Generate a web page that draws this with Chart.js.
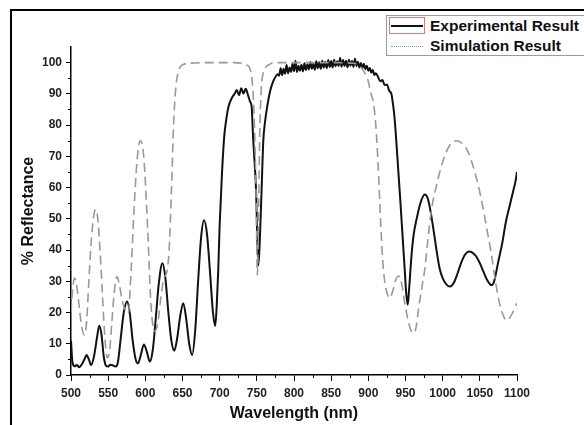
<!DOCTYPE html>
<html>
<head>
<meta charset="utf-8">
<script src="https://cdn.jsdelivr.net/npm/chart.js@4.4.1/dist/chart.umd.min.js"></script>
<style>
  html, body { margin:0; padding:0; background:#fff; overflow:hidden; width:584px; height:425px; }
  #wrap { position:relative; width:584px; height:425px; }
  #frame { position:absolute; left:10px; top:9px; width:620px; height:480px; border-left:2px solid #000; border-top:2px solid #000; }
  canvas { position:absolute; left:0; top:0; }
  #legend { position:absolute; left:386px; top:15px; width:220px; height:39px; border:1px solid #9a9a9a; background:#fff;
            font-family:"Liberation Sans", Arial, sans-serif; font-weight:bold; font-size:15.5px; color:#111; }
  .sample { position:absolute; left:2px; width:36px; height:17px; }
  #s1 { top:1px; border:1px solid #e07878; box-sizing:border-box; }
  #s1 i { position:absolute; left:1px; right:1px; top:7px; height:2px; background:#111; }
  #s2 { top:21px; border:1px solid transparent; box-sizing:border-box; }
  #s2 i { position:absolute; left:1px; right:1px; top:8px; height:0; border-top:1.5px dotted #999; }
  .lab { position:absolute; left:43px; line-height:18px; white-space:nowrap; }
</style>
</head>
<body>
<div id="wrap">
  <div id="frame"></div>
  <canvas id="c" width="584" height="425"></canvas>
  <div id="legend">
    <div class="sample" id="s1"><i></i></div><div class="lab" style="top:1px">Experimental Result</div>
    <div class="sample" id="s2"><i></i></div><div class="lab" style="top:21px">Simulation Result</div>
  </div>
</div>
<script>
// ---- Data ----
const xTickValues = [500, 550, 600, 650, 700, 750, 800, 850, 900, 950, 1000, 1050, 1100];
const yTickValues = [0, 10, 20, 30, 40, 50, 60, 70, 80, 90, 100];

const expWavelength = [
  500, 502, 505, 508, 511, 514, 518, 521, 524, 527, 531, 535, 538, 541, 544, 547,
  550, 553, 556, 560, 563, 567, 571, 575.5, 579, 583, 587, 590, 594, 598, 602, 606,
  610, 614, 618, 623, 627, 631, 635, 639, 643, 647, 651, 655, 659, 663, 667, 671,
  675, 679, 683, 687, 691, 694, 696, 698, 700, 703, 706, 709, 712, 716, 720, 723,
  726, 729, 732, 735, 738, 741, 743, 745, 747, 749, 750.7, 752, 754, 756.5, 758.7, 761,
  764, 768, 772, 776, 778,
  780, 782, 784, 786, 788, 790, 792, 794, 796, 798, 800, 802, 804, 806, 808, 810,
  812, 814, 816, 818, 820, 822, 824, 826, 828, 830, 832, 834, 836, 838, 840, 842,
  844, 846, 848, 850, 852, 854, 856, 858, 860, 862, 864, 866, 868, 870, 872, 874,
  876, 878, 880, 882, 884, 886, 888, 890, 892, 894, 896, 898, 900, 902, 904, 906,
  908, 910, 913, 916, 919, 922, 925, 928, 931, 933, 935, 937, 939, 941, 943, 945,
  947, 949, 951, 953, 955, 958, 961, 965, 970, 976, 980, 984, 988, 992, 996, 1000,
  1005, 1010, 1015, 1020, 1025, 1030, 1035, 1040, 1045, 1050, 1055, 1060, 1064, 1066, 1069, 1075, 1080,
  1085, 1090, 1095, 1098, 1100
];
const expReflectance = [
  11, 4, 2.8, 3.2, 2.5, 3.2, 5, 6.4, 5, 3.2, 6, 12, 15.8, 13, 6, 3,
  2.7, 3.3, 3.1, 2.7, 4, 12, 20, 23.5, 20, 11, 5, 3.7, 6.5, 9.8, 7.5, 4.3,
  8, 18, 29, 35.8, 31, 20, 11, 7.8, 12, 19, 23, 18, 10, 6.4, 14, 30,
  44, 49.5, 45, 33, 20, 15.7, 22, 33, 48, 64, 76, 82, 86, 88.5, 90, 91.2,
  89.6, 91.8, 90.1, 91.6, 89.7, 87.5, 86, 76, 68, 59, 43, 35, 43, 60, 75, 81,
  86, 91, 94, 95.8, 96.3,
  95.8, 98.2, 96.0, 98.0, 96.4, 99.2, 96.6, 98.4, 97.0, 99.6, 97.2, 100.6, 97.0, 99.0, 97.4, 99.3,
  97.2, 99.8, 97.6, 99.5, 97.8, 100.2, 98.0, 99.6, 97.7, 100.4, 98.2, 100.1, 98.0, 100.6, 98.4, 100.3,
  98.2, 100.8, 98.6, 100.5, 98.4, 100.9, 98.8, 100.4, 98.9, 101.5, 98.7, 100.8, 98.9, 100.6, 98.5, 100.9,
  99.0, 100.5, 98.7, 101.2, 98.9, 100.3, 98.4, 99.9, 98.2, 99.6, 97.9, 99.0, 97.4, 98.3, 96.8, 97.6,
  96.0, 96.6, 95.5, 94.0, 94.4, 92.8, 93.0, 91.0, 90, 87, 83, 77, 70, 63, 56, 48.5,
  41, 33.5, 26, 22.5, 28, 38, 45, 50, 55, 57.8, 56.5, 52, 46, 39.5, 34, 31,
  29, 28.3, 29.5, 32.5, 36, 38.5, 39.5, 39.2, 38, 35.8, 33, 30.3, 29, 28.8, 29.8, 36.5, 42,
  49, 54, 59, 62, 65
];

const simWavelength = [
  500, 502, 505, 508, 511, 514, 518, 521, 524, 527, 530, 533, 536, 539, 542, 545,
  549, 552, 555, 558, 562, 565, 568, 571, 577, 581, 585, 589, 593, 597, 600, 604,
  607, 610, 613, 617, 621, 625, 629, 632, 635, 638, 641, 645, 650, 660, 680, 700,
  720, 732, 737, 740, 743, 745, 747, 749, 750.7, 752.5, 754, 756, 758, 762, 767, 772,
  800, 850, 880, 886, 890, 895, 900, 903, 907, 910, 913, 916, 919, 922, 926, 929,
  933, 937, 941, 945, 949, 953, 957, 961, 964, 968, 972, 976, 980, 985, 992, 1001,
  1010, 1019, 1028, 1035, 1041, 1046, 1050, 1055, 1060, 1066, 1071, 1076, 1080, 1086, 1092, 1100
];
const simReflectance = [
  20, 27, 31, 28, 22, 16, 12.8, 17, 30, 42, 50, 53, 50, 40, 27, 14,
  5.5, 8, 17, 26, 31.5, 29, 25, 22, 19.8, 34, 54, 69, 75, 72, 62, 42,
  25, 16, 14, 17, 25, 31, 33, 40, 58, 80, 92, 97.5, 99.3, 99.8, 100, 100,
  100, 99.7, 99.2, 98.5, 95.5, 90, 78, 58, 32, 55, 78, 92, 96, 98.5, 99.4, 100,
  100, 100, 99.8, 99.3, 98.5, 96.8, 94, 90.5, 87, 80, 68, 52, 38, 30, 25.5, 24.7,
  27, 30.5, 31.7, 29, 23, 18, 14.5, 13.4, 15, 22, 28, 34, 43, 53, 61, 69,
  73.7, 75, 73.7, 71, 66.8, 62.5, 58.5, 52.5, 46, 38, 30, 23.5, 20, 17.5, 19, 23
];

const toPts = (xs, ys) => xs.map((v, i) => ({ x: v, y: ys[i] }));

const minorTicks = {
  id: 'minorTicks',
  afterDraw(chart) {
    const { ctx, scales: { x, y } } = chart;
    ctx.save();
    ctx.strokeStyle = '#000';
    ctx.lineWidth = 1;
    for (let i = 0; i < xTickValues.length - 1; i++) {
      const px = Math.round(x.getPixelForValue((xTickValues[i] + xTickValues[i + 1]) / 2)) + 0.5;
      ctx.beginPath(); ctx.moveTo(px, y.bottom); ctx.lineTo(px, y.bottom + 3); ctx.stroke();
    }
    for (let i = 0; i < yTickValues.length - 1; i++) {
      const py = Math.round(y.getPixelForValue((yTickValues[i] + yTickValues[i + 1]) / 2)) + 0.5;
      ctx.beginPath(); ctx.moveTo(x.left, py); ctx.lineTo(x.left - 3, py); ctx.stroke();
    }
    ctx.restore();
  }
};

const FONT = '"Liberation Sans", Arial, sans-serif';
new Chart(document.getElementById('c'), {
  type: 'line',
  data: {
    datasets: [
      {
        label: 'Experimental Result',
        data: toPts(expWavelength, expReflectance),
        borderColor: '#111', borderWidth: 2, pointRadius: 0,
        cubicInterpolationMode: 'monotone', order: 2
      },
      {
        label: 'Simulation Result',
        data: toPts(simWavelength, simReflectance),
        borderColor: '#999', borderWidth: 1.6, borderDash: [9, 5], pointRadius: 0,
        cubicInterpolationMode: 'monotone', order: 1
      }
    ]
  },
  options: {
    responsive: false, animation: false, devicePixelRatio: 1,
    layout: { padding: { left: 0, top: 47, right: 67, bottom: 0 } },
    plugins: { legend: { display: false }, tooltip: { enabled: false } },
    scales: {
      x: {
        type: 'linear', min: 500, max: 1100,
        afterBuildTicks: s => { s.ticks = xTickValues.map(v => ({ value: v })); },
        afterFit: s => { s.height = 50; },
        grid: { drawOnChartArea: false, drawTicks: true, tickLength: 6, tickColor: '#000', tickWidth: 1 },
        border: { display: true, color: '#000', width: 1.5 },
        ticks: { color: '#222', padding: 5, maxRotation: 0, autoSkip: false, callback: v => String(v),
                 font: { family: FONT, size: 12, weight: 'bold' } },
        title: { display: true, text: 'Wavelength (nm)', color: '#111', padding: { top: 0, bottom: 2 },
                 font: { family: FONT, size: 16, weight: 'bold' } }
      },
      y: {
        type: 'linear', min: 0, max: 105,
        afterBuildTicks: s => { s.ticks = yTickValues.map(v => ({ value: v })); },
        afterFit: s => { s.width = 71; },
        grid: { drawOnChartArea: false, drawTicks: true, tickLength: 5, tickColor: '#000', tickWidth: 1 },
        border: { display: true, color: '#000', width: 1.5 },
        ticks: { color: '#222', padding: 4, autoSkip: false, callback: v => String(v),
                 font: { family: FONT, size: 12, weight: 'bold' } },
        title: { display: true, text: '% Reflectance', color: '#111', padding: { top: 19, bottom: 0 },
                 font: { family: FONT, size: 16, weight: 'bold' } }
      }
    }
  },
  plugins: [minorTicks]
});
</script>
</body>
</html>
